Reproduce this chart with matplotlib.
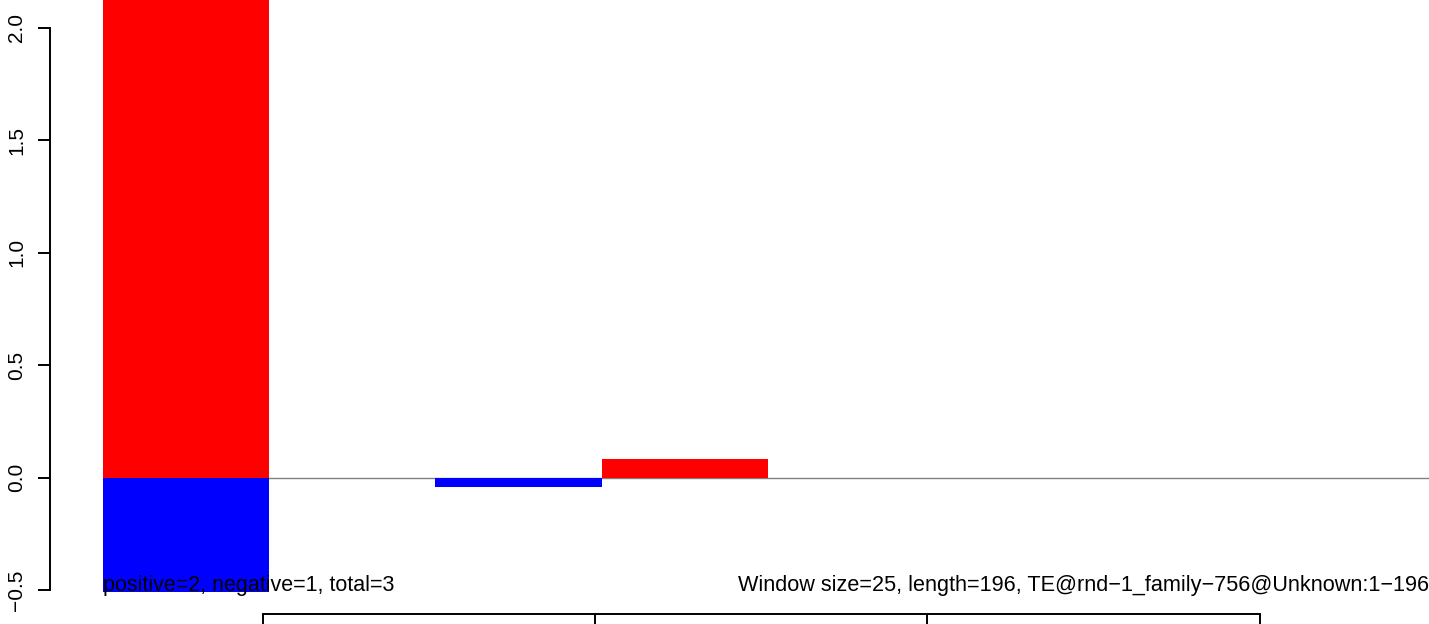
import numpy as np
import matplotlib
matplotlib.use('Agg')
import matplotlib.pyplot as plt

plt.rcParams['font.family'] = ['Liberation Sans', 'DejaVu Sans']

# window index (left edge of each bar) and values per window
win_pos = [0, 1, 2, 3, 4, 5, 6, 7]
pos_vals = [2.4, 0, 0, 0.082, 0, 0, 0, 0]
neg_vals = [-0.52, 0, -0.041, 0, 0, 0, 0, 0]
y_ticks = [-0.5, 0.0, 0.5, 1.0, 1.5, 2.0]
x_ticks = [0.96, 2.96, 4.96, 6.96]
left_note = 'positive=2, negative=1, total=3'
right_note = 'Window size=25, length=196, TE@rnd\u22121_family\u2212756@Unknown:1\u2212196'

W, H = 1429, 624
fig = plt.figure(figsize=(W / 100, H / 100), dpi=100)
ax = fig.add_axes([103 / W, (H - 591.7) / H, (W - 103) / W, 591.7 / H])
ax.set_xlim(0, 7.978)
ax.set_ylim(-0.5076, 2.124)

ax.axhline(0, color='#808080', lw=1.0, zorder=1)
ax.bar(win_pos, pos_vals, width=1, align='edge', color='#FF0000', zorder=2)
ax.bar(win_pos, neg_vals, width=1, align='edge', color='#0000FF', zorder=2)

for s in ['top', 'right']:
    ax.spines[s].set_visible(False)
ax.spines['left'].set_position(('outward', 38.2))
ax.spines['left'].set_bounds(-0.5, 2.0)
ax.spines['bottom'].set_position(('outward', 16.3))
ax.spines['bottom'].set_bounds(x_ticks[0], x_ticks[-1])
for s in ['left', 'bottom']:
    ax.spines[s].set_linewidth(1.4)

ax.set_yticks(y_ticks)
ax.set_yticklabels([f'{v:.1f}'.replace('-', '\u2212') for v in y_ticks])
for lab in ax.get_yticklabels():
    lab.set_rotation(90)
    lab.set_va('center')
ax.set_xticks(x_ticks)
ax.tick_params(axis='y', length=8.9, width=1.4, labelsize=15, pad=8)
ax.tick_params(axis='x', length=8.9, width=1.4, labelbottom=False)

ax.text(0, -0.503, left_note, fontsize=15.5, ha='left', va='baseline', zorder=3)
ax.text(3.819, -0.503, right_note, fontsize=15.6, ha='left', va='baseline', zorder=3, clip_on=False)

fig.savefig('out.png', dpi=100)
